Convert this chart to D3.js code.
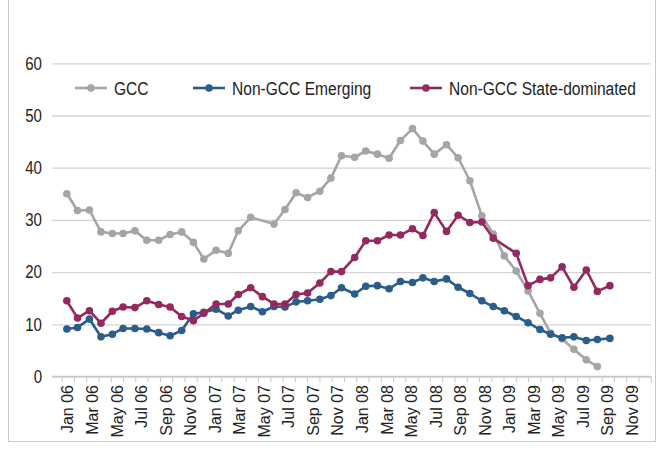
<!DOCTYPE html>
<html>
<head>
<meta charset="utf-8">
<script src="https://cdn.jsdelivr.net/npm/d3@7"></script>
<style>
  html, body { margin: 0; padding: 0; background: #fff; }
  svg { display: block; }
</style>
</head>
<body>
<svg id="chart" width="660" height="454"></svg>
<script>
// ---- data ----
const dates = [
  "2006-01-14","2006-02-09","2006-03-09","2006-04-07","2006-05-05","2006-06-01","2006-06-30","2006-07-30",
  "2006-08-29","2006-09-26","2006-10-25","2006-11-23","2006-12-19","2007-01-19","2007-02-17","2007-03-13",
  "2007-04-13","2007-05-12","2007-06-10","2007-07-07","2007-08-04","2007-09-02","2007-10-02","2007-10-30",
  "2007-11-25","2007-12-28","2008-01-25","2008-02-22","2008-03-22","2008-04-19","2008-05-19","2008-06-14",
  "2008-07-12","2008-08-12","2008-09-10","2008-10-09","2008-11-08","2008-12-06","2009-01-03","2009-02-02",
  "2009-03-01","2009-03-31","2009-04-26","2009-05-25","2009-06-23","2009-07-24","2009-08-21","2009-09-21"
];
const gcc = [
  35.0,31.8,31.9,27.7,27.4,27.4,27.9,26.1,26.1,27.2,27.7,25.7,22.5,24.2,23.6,27.9,
  30.5,null,29.2,32.0,35.2,34.3,35.5,38.0,42.3,42.0,43.2,42.6,41.8,45.2,47.5,45.1,
  42.6,44.4,41.9,37.5,30.8,27.3,23.1,20.2,16.4,12.1,8.3,7.2,5.2,3.2,1.9,null
];
const emerging = [
  9.1,9.4,11.0,7.6,8.1,9.2,9.2,9.1,8.4,7.8,8.8,12.0,12.3,12.9,11.6,12.7,
  13.4,12.4,13.4,13.3,14.3,14.5,14.8,15.5,17.0,15.8,17.3,17.4,16.8,18.2,18.0,18.9,
  18.2,18.7,17.1,15.9,14.5,13.4,12.6,11.5,10.3,9.0,8.1,7.4,7.6,6.9,7.1,7.3
];
const stateDominated = [
  14.5,11.2,12.6,10.2,12.5,13.3,13.2,14.5,13.8,13.3,11.5,10.7,12.1,13.9,13.9,15.7,
  17.0,15.3,13.9,13.9,15.7,16.0,17.9,20.1,20.1,22.8,26.0,26.0,27.1,27.1,28.3,27.0,
  31.4,27.8,30.9,29.5,29.6,26.5,null,23.6,17.4,18.6,18.9,21.0,17.1,20.4,16.3,17.4
];
const seriesNames = ["GCC","Non-GCC Emerging","Non-GCC State-dominated"];
const seriesColors = ["#a5a5a5","#2a5d8b","#93295e"];
const yTicks = [0,10,20,30,40,50,60];
const monthLabels = [
  "Jan 06","Mar 06","May 06","Jul 06","Sep 06","Nov 06",
  "Jan 07","Mar 07","May 07","Jul 07","Sep 07","Nov 07",
  "Jan 08","Mar 08","May 08","Jul 08","Sep 08","Nov 08",
  "Jan 09","Mar 09","May 09","Jul 09","Sep 09","Nov 09"
];
const startYear = 2006, monthCount = 48;

// ---- helpers ----
function monthPos(s) {
  const [yy, mm, dd] = s.split("-").map(Number);
  const days = new Date(yy, mm, 0).getDate();
  return (yy - startYear) * 12 + (mm - 1) + (dd - 1) / days;
}
const FONT = "'Liberation Sans',Arial,sans-serif";

const svg = d3.select("#chart");
const x = d3.scaleLinear().domain([0, monthCount]).range([61.7, 650.8]);
const y = d3.scaleLinear().domain([0, 60]).range([376.5, 63.3]);

// frame
svg.append("rect")
  .attr("x", 8.5).attr("y", -2).attr("width", 647).attr("height", 443.5)
  .attr("fill", "none").attr("stroke", "#c8c8c8").attr("stroke-width", 1);

// y grid
const gy = svg.append("g").attr("transform", "translate(52,0)")
  .call(d3.axisLeft(y).tickValues(yTicks).tickSize(-599).tickFormat(""));
gy.select(".domain").remove();
gy.selectAll(".tick line").attr("stroke", "#d4d4d4").attr("stroke-width", 1.3);

// y labels (condensed look)
svg.append("g").selectAll("text")
  .data(yTicks)
  .join("text")
  .attr("transform", d => `translate(42,${y(d)}) scale(0.86,1)`)
  .attr("text-anchor", "end")
  .attr("dy", "0.36em")
  .attr("font-family", FONT)
  .attr("font-size", 17.5)
  .attr("fill", "#222")
  .text(d => d);

// x axis line + tick marks
const gx = svg.append("g").attr("transform", `translate(0,${y(0)})`)
  .call(d3.axisBottom(x).tickValues(d3.range(0, monthCount + 1)).tickSize(6).tickFormat(""));
gx.select(".domain").remove();
gx.selectAll(".tick line").attr("stroke", "#c8c8c8");
svg.append("line")
  .attr("x1", 52).attr("x2", 651).attr("y1", y(0)).attr("y2", y(0))
  .attr("stroke", "#c8c8c8").attr("stroke-width", 1.3);

// x labels (rotated)
svg.append("g").selectAll("text")
  .data(monthLabels)
  .join("text")
  .attr("transform", (d, i) => `translate(${x(i * 2 + 0.5)},385) rotate(-90)`)
  .attr("text-anchor", "end")
  .attr("dy", "0.35em")
  .attr("font-family", FONT)
  .attr("font-size", 16)
  .attr("fill", "#222")
  .text(d => d);

// series
const allSeries = [gcc, emerging, stateDominated];
const line = d3.line().x(d => x(d.m)).y(d => y(d.v));
allSeries.forEach((vals, si) => {
  const pts = vals.map((v, i) => ({ m: monthPos(dates[i]), v }))
    .filter(p => p.v !== null);
  const g = svg.append("g");
  g.append("path").datum(pts)
    .attr("d", line)
    .attr("fill", "none")
    .attr("stroke", seriesColors[si])
    .attr("stroke-width", 2.6)
    .attr("stroke-linejoin", "round");
  g.selectAll("circle").data(pts).join("circle")
    .attr("cx", d => x(d.m)).attr("cy", d => y(d.v)).attr("r", 3.8)
    .attr("fill", seriesColors[si]);
});

// legend
const legendX = [75, 193, 410];
const lg = svg.append("g");
seriesNames.forEach((name, i) => {
  const lx = legendX[i], ly = 88;
  lg.append("line").attr("x1", lx).attr("x2", lx + 32).attr("y1", ly).attr("y2", ly)
    .attr("stroke", seriesColors[i]).attr("stroke-width", 2.6);
  lg.append("circle").attr("cx", lx + 16).attr("cy", ly).attr("r", 3.8).attr("fill", seriesColors[i]);
  lg.append("text")
    .attr("transform", `translate(${lx + 39},${ly}) scale(0.82,1)`)
    .attr("dy", "0.36em")
    .attr("font-family", FONT)
    .attr("font-size", 19).attr("fill", "#222")
    .text(name);
});
</script>
</body>
</html>
